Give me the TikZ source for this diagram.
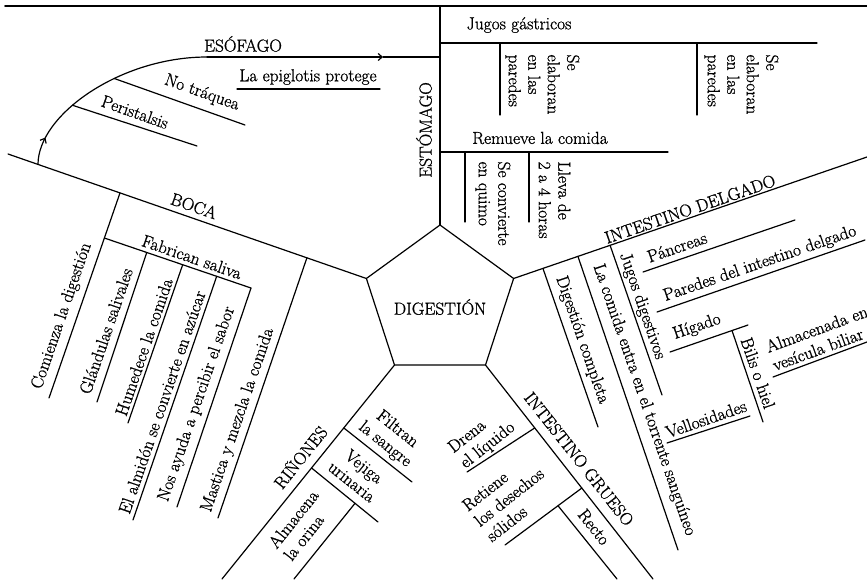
\documentclass[tikz,border=0pt]{standalone}
\usepackage{fontspec}
\setmainfont{Latin Modern Roman}[FakeBold=1.0]
\usetikzlibrary{arrows.meta,decorations.markings,shapes.geometric}
\begin{document}
\begin{tikzpicture}[x=1pt,y=-1pt,line width=1.2pt,line cap=round,
  lbl/.style={font=\fontsize{17.4}{19.5}\selectfont,inner sep=0pt,align=left},
  pent/.style={draw,regular polygon,regular polygon sides=5,minimum size=154.8pt,inner sep=0pt,outer sep=0pt},
  barb/.style={-{Straight Barb[length=4pt,width=7pt]}}]
\useasboundingbox (0,0) rectangle (867,579);

% centre
\node[pent] (dig) at (440,302.4) {};
\node[lbl] (digt) at (440,307) {DIGESTIÓN};

% ---------- ESTÓMAGO ----------
\coordinate (tl) at (5,6);
\coordinate (tr) at (867,6);
\draw[line width=1.7pt] (tl) -- (tr);
\coordinate (estTop) at (440,6);
\draw (estTop) -- (dig.corner 1);
\node[lbl,rotate=90] (est) at (424,130) {ESTÓMAGO};

\coordinate (jgA) at (440,43);
\coordinate (jgB) at (817,43);
\draw (jgA) -- (jgB);
\node[lbl] (jg) at (519,25) {Jugos gástricos};
\coordinate (se1A) at (500,43);
\coordinate (se1B) at (500,115);
\coordinate (se2A) at (697,43);
\coordinate (se2B) at (697,115);
\draw (se1A) -- (se1B);
\draw (se2A) -- (se2B);
\node[lbl,rotate=-90,anchor=north west] (se1) at (580,54) {Se\\elaboran\\en las\\paredes};
\node[lbl,rotate=-90,anchor=north west] (se2) at (779,54) {Se\\elaboran\\en las\\paredes};

\coordinate (remA) at (440,152);
\coordinate (remB) at (668,152);
\draw (remA) -- (remB);
\node[lbl] (rem) at (540,138) {Remueve la comida};
\coordinate (quA) at (465,152);
\coordinate (quB) at (465,222);
\coordinate (llA) at (529,152);
\coordinate (llB) at (529,222);
\draw (quA) -- (quB);
\draw (llA) -- (llB);
\node[lbl,rotate=-90,anchor=north west] (quimo) at (511,161) {Se convierte\\en quimo};
\node[lbl,rotate=-90,anchor=north west] (lleva) at (571,161) {Lleva de\\2 a 4 horas};

% ---------- BOCA ----------
\coordinate (bocaS) at (8,154);
\draw (bocaS) -- (dig.corner 2)
  coordinate[pos=0.0837] (eso0)
  coordinate[pos=0.3125] (comA)
  coordinate[pos=0.834] (masA);
\node[lbl,rotate=-19] (boca) at (194,206) {BOCA};

\coordinate (comB) at (49,398);
\draw (comA) -- (comB) coordinate[pos=0.22] (fabA);
\node[lbl,rotate=71] (com) at (62,316) {Comienza la digestión};

\coordinate (fabB) at (251,288);
\draw (fabA) -- (fabB)
  coordinate[pos=0.289] (glaA)
  coordinate[pos=0.534] (humA)
  coordinate[pos=0.766] (almA);
\node[lbl,rotate=-19] (fab) at (192,257) {Fabrican saliva};

\coordinate (glaB) at (97,402);
\coordinate (humB) at (128,423);
\coordinate (almB) at (133,520);
\coordinate (nosB) at (177,507);
\coordinate (masB) at (218,518);
\draw (glaA) -- (glaB);
\draw (humA) -- (humB);
\draw (almA) -- (almB);
\draw (fabB) -- (nosB);
\draw (masA) -- (masB);
\node[lbl,rotate=71] (gla) at (106,331) {Glándulas salivales};
\node[lbl,rotate=71] (hum) at (144,347) {Humedece la comida};
\node[lbl,rotate=71] (alm) at (162,402) {El almidón se convierte en azúcar};
\node[lbl,rotate=71] (nos) at (197,404) {Nos ayuda a percibir el sabor};
\node[lbl,rotate=71] (mas) at (238,420) {Mastica y mezcla la comida};

% ---------- ESÓFAGO ----------
\coordinate (esoH) at (207,57);
\coordinate (esoArr) at (383,57);
\coordinate (esoEnd) at (440,57);
\draw[postaction={decorate},decoration={markings,mark=at position 0.13 with {\arrow{Straight Barb[length=4pt,width=7pt]}}}]
  (eso0) .. controls (38,115) and (120,57) .. (esoH)
  coordinate[pos=0.4] (periA) coordinate[pos=0.62] (notrA);
\draw[barb] (esoH) -- (esoArr);
\draw (esoArr) -- (esoEnd);
\node[lbl] (eso) at (243,44) {ESÓFAGO};

\coordinate (epiA) at (237,89);
\coordinate (epiB) at (380,89);
\draw (epiA) -- (epiB);
\node[lbl] (epi) at (308,77) {La epiglotis protege};

\coordinate (notrB) at (245,125);
\coordinate (periB) at (197,146);
\draw (notrA) -- (notrB);
\draw (periA) -- (periB);
\node[lbl,rotate=-19.5] (notr) at (202,93) {No tráquea};
\node[lbl,rotate=-19.5] (peri) at (135,112) {Peristalsis};

% ---------- RIÑONES ----------
\coordinate (rinB) at (222,579);
\draw (dig.corner 3) -- (rinB)
  coordinate[pos=0.294] (filA)
  coordinate[pos=0.481] (vejA);
\node[lbl,rotate=51.4] (rin) at (300,457) {RIÑONES};
\coordinate (filB) at (412,482);
\coordinate (vejB) at (378,522);
\draw (filA) -- (filB);
\draw (vejA) -- (vejB) coordinate[pos=0.654] (aorA);
\coordinate (aorB) at (294,579);
\draw (aorA) -- (aorB);
\node[lbl,rotate=-38.6,align=center] (fil) at (391,437) {Filtran\\la sangre};
\node[lbl,rotate=-38.6,align=center] (vej) at (358,474) {Vejiga\\urinaria};
\node[lbl,rotate=51.4] (aor) at (301,525) {Almacena\\la orina};

% ---------- INTESTINO GRUESO ----------
\coordinate (igB) at (653,579);
\draw (dig.corner 4) -- (igB)
  coordinate[pos=0.294] (dreA)
  coordinate[pos=0.575] (retA);
\node[lbl,rotate=-51.7] (ig) at (579,459) {INTESTINO GRUESO};
\coordinate (dreB) at (467,472);
\coordinate (retB) at (505,545);
\draw (dreA) -- (dreB);
\draw (retA) -- (retB) coordinate[pos=0.31] (recA);
\coordinate (recB) at (617,579);
\draw (recA) -- (recB);
\node[lbl,rotate=38.3] (dre) at (482,438) {Drena\\el líquido};
\node[lbl,rotate=38.3] (ret) at (509,497) {Retiene\\los desechos\\sólidos};
\node[lbl,rotate=-51.7] (rec) at (594,527) {Recto};

% ---------- INTESTINO DELGADO ----------
\coordinate (idB) at (867,157);
\draw (dig.corner 5) -- (idB)
  coordinate[pos=0.083] (dcA)
  coordinate[pos=0.182] (torA)
  coordinate[pos=0.273] (jdA);
\node[lbl,rotate=19] (id) at (690,209) {INTESTINO DELGADO};
\coordinate (dcB) at (598,427);
\coordinate (torB) at (678,550);
\coordinate (jdB) at (662,395);
\draw (dcA) -- (dcB);
\draw (torA) -- (torB);
\draw (jdA) -- (jdB);
\node[lbl,rotate=-71] (dc) at (582,340) {Digestión completa};
\node[lbl,rotate=-71] (tor) at (644,400) {La comida entra en el torrente sanguíneo};
\node[lbl,rotate=-71] (jd) at (642,306) {Jugos digestivos};

\coordinate (panA) at (643,272);
\coordinate (panB) at (795,220);
\coordinate (parA) at (657,312);
\coordinate (parB) at (865,240);
\draw (panA) -- (panB);
\draw (parA) -- (parB);
\node[lbl,rotate=19] (pan) at (677,247) {Páncreas};
\node[lbl,rotate=19] (par) at (760,264) {Paredes del intestino delgado};

\coordinate (higA) at (670,352);
\coordinate (higB) at (748,325);
\draw (higA) -- (higB) coordinate[pos=0.795] (bilA);
\coordinate (bilB) at (763,422);
\draw (bilA) -- (bilB);
\node[lbl,rotate=19] (hig) at (697,327) {Hígado};
\node[lbl,rotate=-71] (bil) at (758,373) {Bilis o hiel};

\coordinate (vesA) at (773,377);
\coordinate (vesB) at (867,342);
\draw (vesA) -- (vesB);
\node[lbl,rotate=20] (ves) at (820,338) {Almacenada en\\vesícula biliar};

\coordinate (velA) at (667,443);
\coordinate (velB) at (750,416);
\draw (velA) -- (velB);
\node[lbl,rotate=19] (vel) at (706,419) {Vellosidades};
\end{tikzpicture}
\end{document}
